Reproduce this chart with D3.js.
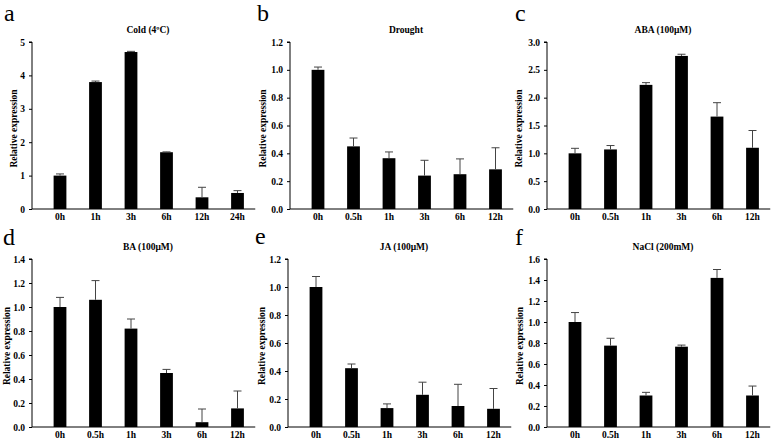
<!DOCTYPE html>
<html><head><meta charset="utf-8">
<script src="https://cdn.jsdelivr.net/npm/d3@7"></script>
<style>body{margin:0;background:#fff}svg{display:block}text{font-family:"Liberation Serif","Times New Roman",serif}</style>
</head><body>
<svg id="c" width="778" height="440"></svg>
<script>
const catsA = ["0h","1h","3h","6h","12h","24h"];
const catsB = ["0h","0.5h","1h","3h","6h","12h"];
const coldVals = [1.0, 3.8, 4.7, 1.7, 0.35, 0.48];
const coldErr  = [0.05, 0.03, 0.02, 0.01, 0.30, 0.07];
const droughtVals = [1.0, 0.45, 0.365, 0.24, 0.25, 0.285];
const droughtErr  = [0.02, 0.06, 0.045, 0.11, 0.11, 0.155];
const abaVals = [1.0, 1.07, 2.23, 2.75, 1.66, 1.10];
const abaErr  = [0.09, 0.07, 0.04, 0.03, 0.25, 0.31];
const baVals = [1.0, 1.06, 0.82, 0.45, 0.04, 0.155];
const baErr  = [0.08, 0.16, 0.08, 0.03, 0.11, 0.145];
const jaVals = [1.0, 0.42, 0.135, 0.23, 0.15, 0.13];
const jaErr  = [0.075, 0.03, 0.03, 0.09, 0.155, 0.145];
const naclVals = [1.0, 0.775, 0.30, 0.765, 1.42, 0.30];
const naclErr  = [0.09, 0.07, 0.03, 0.015, 0.08, 0.09];

const letters = ["a","b","c","d","e","f"];
const titles = ["Cold (4ºC)","Drought","ABA (100μM)","BA (100μM)","JA (100μM)","NaCl (200mM)"];
const yMaxes = [5, 1.2, 3.0, 1.4, 1.2, 1.6];
const yStep = [1, 0.2, 0.5, 0.2, 0.2, 0.2];
const yFmt = ["d", ".1f", ".1f", ".1f", ".1f", ".1f"];

const panels = [
  {cats: catsA, vals: coldVals, err: coldErr},
  {cats: catsB, vals: droughtVals, err: droughtErr},
  {cats: catsB, vals: abaVals, err: abaErr},
  {cats: catsB, vals: baVals, err: baErr},
  {cats: catsB, vals: jaVals, err: jaErr},
  {cats: catsB, vals: naclVals, err: naclErr}
];
// layout
const axisXs = [32, 290, 547, 32, 288, 547];
const labelXs = [14, 263, 519, 7, 262, 520];
const letterPos = [[4,21],[257,21],[515,21],[3,245],[255,244],[515,245]];
const rowTop = [42, 42, 42, 259, 259, 259];
const rowBot = [209, 209, 209, 427, 427, 427];

const svg = d3.select("#c");
panels.forEach((p, i) => {
  const ax = axisXs[i];
  const g = svg.append("g");
  const bandStart = ax + 10.25;
  const x = d3.scaleBand().domain(p.cats).range([bandStart, bandStart + 213]).paddingInner(0.64).paddingOuter(0.32);
  const y = d3.scaleLinear().domain([0, yMaxes[i]]).range([rowBot[i], rowTop[i]]);
  const ticks = d3.range(0, yMaxes[i] + 1e-9, yStep[i]);
  // y axis
  const yAxis = d3.axisLeft(y).tickValues(ticks).tickFormat(d3.format(yFmt[i])).tickSize(3).tickPadding(4);
  const ya = g.append("g").attr("transform", `translate(${ax},0)`).call(yAxis);
  ya.select(".domain").attr("stroke", "#000").attr("stroke-width", 1).attr("d", `M-3,${rowTop[i]}H0V${rowBot[i]}`);
  ya.selectAll(".tick line").attr("stroke", "#000");
  ya.selectAll("text").attr("font-size", 9.5).attr("font-weight", "bold").attr("fill", "#000");
  // x axis
  const xAxis = d3.axisBottom(x).tickSize(0).tickPadding(4);
  const xa = g.append("g").attr("transform", `translate(0,${rowBot[i]})`).call(xAxis);
  xa.select(".domain").attr("stroke", "#000").attr("d", `M${ax},0H${bandStart + 213}`);
  xa.selectAll("text").attr("font-size", 9.5).attr("font-weight", "bold").attr("fill", "#000");
  // bars
  g.selectAll("rect.bar").data(p.vals).join("rect")
    .attr("x", (d, j) => x(p.cats[j]))
    .attr("width", x.bandwidth())
    .attr("y", d => y(d))
    .attr("height", d => y(0) - y(d))
    .attr("fill", "#000");
  // error bars
  p.vals.forEach((v, j) => {
    const cx = x(p.cats[j]) + x.bandwidth() / 2;
    const top = y(v + p.err[j]);
    g.append("line").attr("x1", cx).attr("x2", cx).attr("y1", y(v)).attr("y2", top).attr("stroke", "#444").attr("stroke-width", 1);
    g.append("line").attr("x1", cx - 4).attr("x2", cx + 4).attr("y1", top).attr("y2", top).attr("stroke", "#444").attr("stroke-width", 1);
  });
  // title
  g.append("text").attr("x", ax + 116).attr("y", rowTop[i] - 9).attr("text-anchor", "middle")
    .attr("font-size", 9.5).attr("font-weight", "bold").text(titles[i]);
  // y label
  const cy = (rowTop[i] + rowBot[i]) / 2 + 3;
  g.append("text").attr("transform", `translate(${labelXs[i] + 3},${cy}) rotate(-90)`).attr("text-anchor", "middle")
    .attr("font-size", 9.5).attr("font-weight", "bold").text("Relative expression");
  // letter
  g.append("text").attr("x", letterPos[i][0]).attr("y", letterPos[i][1]).attr("font-size", 24)
    .text(letters[i]);
});
</script>
</body></html>
